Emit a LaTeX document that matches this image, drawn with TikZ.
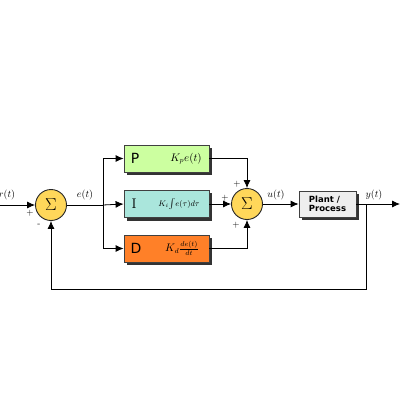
\documentclass[tikz,border=0pt]{standalone}
\usepackage{fontspec}
\setsansfont{DejaVu Sans}
\usetikzlibrary{arrows.meta,calc}
\definecolor{pgreen}{RGB}{204,255,160}
\definecolor{icyan}{RGB}{170,230,220}
\definecolor{dorange}{RGB}{255,128,40}
\definecolor{sumyel}{RGB}{255,215,90}
\definecolor{plantg}{RGB}{238,238,238}
\tikzset{
  blk/.style={draw=black!75, line width=0.8pt, minimum width=85pt, minimum height=27pt, inner sep=0pt},
  plantbox/.style={draw=black!75, line width=0.8pt, fill=plantg, minimum width=57pt, minimum height=26pt, inner sep=0pt, font=\sffamily\bfseries\fontsize{8.5}{8.5}\selectfont, align=left},
  sumnode/.style={circle, draw=black!85, line width=0.9pt, fill=sumyel, minimum size=31pt, inner sep=0pt, font=\fontsize{17}{17}\selectfont},
  wire/.style={line width=0.8pt},
  arr/.style={line width=0.8pt, -{Latex[length=8pt,width=7pt]}},
  lbl/.style={font=\fontsize{10}{10}\selectfont, inner sep=0pt},
  sgn/.style={font=\fontsize{9}{9}\selectfont, inner sep=0pt},
  letter/.style={font=\sffamily\fontsize{14}{14}\selectfont, inner sep=0pt},
}
\newcommand{\shadowbox}[1]{\fill[black!80] ($(#1.south west)+(3,3)$) rectangle ($(#1.north east)+(3,3)$);}
\begin{document}
\begin{tikzpicture}[x=1pt,y=-1pt]
\useasboundingbox (0,0) rectangle (400,400);
\fill[white] (0,0) rectangle (400,400);
% nodes
\node[sumnode] (s1) at (51,205) {$\Sigma$};
\node[sumnode] (s2) at (247,204) {$\Sigma$};
\coordinate (br) at (103,205);
\coordinate (in) at (0,205);
% blocks with shadows
\path (166.5,158.5) node[blk,fill=pgreen] (P) {};
\path (166.5,204) node[blk,fill=icyan] (I) {};
\path (166.5,248.5) node[blk,fill=dorange] (D) {};
\shadowbox{P}\shadowbox{I}\shadowbox{D}
\node[blk,fill=pgreen] at (P) {};
\node[blk,fill=icyan] at (I) {};
\node[blk,fill=dorange] at (D) {};
\node[letter] (Pl) at (135,158.5) {P};
\node[inner sep=0pt, font=\rmfamily\fontsize{14}{14}\selectfont] (Il) at (134,204) {I};
\node[letter] (Dl) at (136,248.5) {D};
\node[inner sep=0pt, font=\fontsize{10.5}{10.5}\selectfont] (Pf) at (186,158.5) {$K_p e(t)$};
\node[inner sep=0pt, font=\fontsize{8}{8}\selectfont] (If) at (179,204) {$K_i\!\int\! e(\tau)d\tau$};
\node[inner sep=0pt, font=\fontsize{10.5}{10.5}\selectfont] (Df) at (182,248.5) {$K_d\frac{de(t)}{dt}$};
% plant
\path (327.5,204) node[plantbox] (pl) {};
\shadowbox{pl}
\node[plantbox] (plant) at (327.5,204) {Plant /\\Process};
\coordinate (yb) at (366,204);
\coordinate (out) at (400,204);
\coordinate (fb1) at (366,289);
\coordinate (fb2) at (51,289);
% connectors
\draw[arr] (in) -- (s1.west);
\draw[wire] (s1.east) -- (br);
\draw[arr] (br) |- (P.west);
\draw[arr] (br) -- (I.west);
\draw[arr] (br) |- (D.west);
\draw[arr] (P.east) -| (s2.north);
\draw[arr] (I.east) -- (s2.west);
\draw[arr] (D.east) -| (s2.south);
\draw[arr] (s2.east) -- (plant.west);
\draw[arr] (plant.east) -- (out);
\draw[wire] (yb) -- (fb1) -- (fb2);
\draw[arr] (fb2) -- (s1.south);
% labels
\node[lbl] (rt) at (7,195) {$r(t)$};
\node[lbl] (et) at (85,195) {$e(t)$};
\node[lbl] (ut) at (276,195) {$u(t)$};
\node[lbl] (yt) at (374,195) {$y(t)$};
\node[sgn] (p1) at (30,213) {$+$};
\node[sgn] (m1) at (39,225) {-};
\node[sgn] (p2) at (237,184) {$+$};
\node[sgn] (p3) at (225,198) {$+$};
\node[sgn] (p4) at (236,225) {$+$};
\end{tikzpicture}
\end{document}
